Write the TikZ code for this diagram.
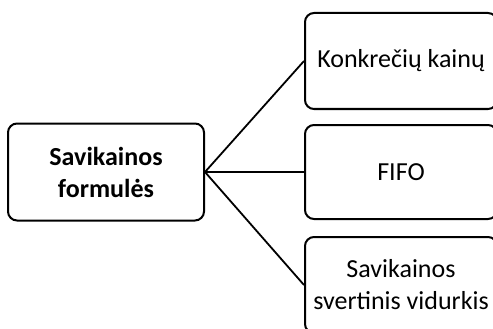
\documentclass[tikz,border=0pt]{standalone}
\usepackage{fontspec}
\setmainfont{Carlito}
\begin{document}
\begin{tikzpicture}[x=1pt,y=-1pt,
  box/.style={draw=black,line width=2pt,rounded corners=9pt,fill=white,align=center,inner sep=0pt,font=\fontsize{26}{32}\selectfont},
  conn/.style={draw=black,line width=1.8pt}]
\useasboundingbox (0,0) rectangle (493,329);
\node[box,minimum width=196pt,minimum height=97pt,font=\bfseries\fontsize{26}{32}\selectfont] (root) at (106,172) {Savikainos\\formulės};
\node[box,minimum width=192pt,minimum height=96pt] (a) at (401,61) {Konkrečių kainų};
\node[box,minimum width=192pt,minimum height=94pt] (b) at (401,172) {FIFO};
\node[box,minimum width=192pt,minimum height=96pt] (c) at (401,285) {Savikainos\\svertinis vidurkis};
\draw[conn] (root.east) -- (a.west);
\draw[conn] (root.east) -- (b.west);
\draw[conn] (root.east) -- (c.west);
\end{tikzpicture}
\end{document}
